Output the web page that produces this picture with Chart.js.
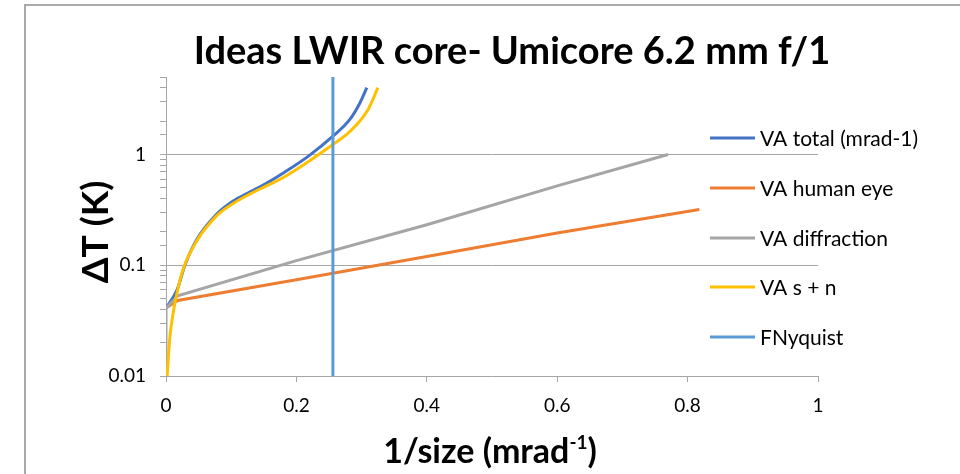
<!DOCTYPE html>
<html>
<head>
<meta charset="utf-8">
<title>Ideas LWIR core- Umicore 6.2 mm f/1</title>
<script src="https://cdn.jsdelivr.net/npm/chart.js@4.4.0/dist/chart.umd.min.js"></script>
<style>
  html, body { margin: 0; padding: 0; background: #fff; overflow: hidden; }
  #wrap { position: relative; width: 960px; height: 474px; }
  #frame { position: absolute; left: 24px; top: 4px; width: 1000px; height: 600px;
           border: 2px solid #a9a9a9; box-sizing: border-box; }
  #chart { position: absolute; left: 0; top: 0; }
</style>
</head>
<body>
<div id="wrap">
  <div id="frame"></div>
  <canvas id="chart" width="960" height="474"></canvas>
</div>
<script>
// Series (x = 1/size in mrad-1, y = ΔT in K)
const chartTitle = "Ideas LWIR core- Umicore 6.2 mm f/1";
const seriesNames = ["VA total (mrad-1)", "VA human eye", "VA diffraction", "VA s + n", "FNyquist"];

const totalX = [0, 0.017, 0.029, 0.047, 0.078, 0.103, 0.129, 0.154, 0.18, 0.218, 0.256, 0.282, 0.298, 0.308];
const totalY = [0.041, 0.06, 0.1, 0.17, 0.29, 0.38, 0.46, 0.55, 0.68, 0.96, 1.46, 2.07, 2.96, 4.0];

const eyeX = [0, 0.018, 0.2, 0.4, 0.6, 0.818];
const eyeY = [0.041, 0.048, 0.074, 0.12, 0.195, 0.318];

const diffX = [0, 0, 0.018, 0.2, 0.4, 0.6, 0.77];
const diffY = [0.005, 0.041, 0.053, 0.11, 0.232, 0.52, 1.0];

const snX = [0.0015, 0.006, 0.011, 0.018, 0.026, 0.047, 0.078, 0.103, 0.129, 0.154, 0.18, 0.218, 0.256, 0.282, 0.31, 0.325];
const snY = [0.0095, 0.0225, 0.037, 0.06, 0.091, 0.165, 0.28, 0.36, 0.44, 0.52, 0.62, 0.86, 1.23, 1.61, 2.55, 4.0];

const nyqX = [0.256, 0.256];
const nyqY = [0.01, 5];

// Axis ranges / tick labels
const xMin = 0, xMax = 1, xStep = 0.2;
const yMin = 0.01, yMax = 5;
const yLabels = ["0.01", "0.1", "1"];

const colors = ["#4472C4", "#ED7D31", "#A5A5A5", "#FFC000", "#5B9BD5"];
const FONT = "Lato, 'Open Sans', sans-serif";
const GRID = "#a6a6a6";

// legend placement (Excel put it over the plot)
const legendLineX = [710, 755];
const legendTextX = 760;
const legendY = [138, 188, 238, 287, 337];

function pts(xs, ys) {
  return xs.map((x, i) => ({ x: x, y: ys[i] }));
}

function isDecade(v) {
  const l = Math.log10(v);
  return Math.abs(l - Math.round(l)) < 1e-6;
}

const datasets = [
  { data: pts(totalX, totalY), smooth: true },
  { data: pts(eyeX, eyeY), smooth: false },
  { data: pts(diffX, diffY), smooth: false },
  { data: pts(snX, snY), smooth: true },
  { data: pts(nyqX, nyqY), smooth: false }
].map((d, i) => ({
  label: seriesNames[i],
  data: d.data,
  showLine: true,
  borderColor: colors[i],
  backgroundColor: colors[i],
  borderWidth: 3,
  pointRadius: 0,
  pointHoverRadius: 0,
  cubicInterpolationMode: d.smooth ? "monotone" : "default",
  tension: 0,
  order: 5 - i   // later series on top, like Excel
}));

// title, axis titles + legend drawn on top
const overlay = {
  id: "overlay",
  afterDraw(chart) {
    const ctx = chart.ctx;

    // chart title
    ctx.save();
    ctx.fillStyle = "#000";
    ctx.font = "bold 38px " + FONT;
    ctx.textAlign = "center";
    ctx.textBaseline = "middle";
    ctx.fillText(chartTitle, 512, 52);
    ctx.restore();

    // y axis title
    ctx.save();
    ctx.fillStyle = "#000";
    ctx.font = "bold 37px " + FONT;
    ctx.textAlign = "center";
    ctx.textBaseline = "middle";
    ctx.translate(96, 232);
    ctx.rotate(-Math.PI / 2);
    ctx.fillText("ΔT (K)", 0, 0);
    ctx.restore();

    // x axis title with superscript
    ctx.save();
    ctx.fillStyle = "#000";
    ctx.textBaseline = "alphabetic";
    ctx.textAlign = "left";
    const big = "bold 34px " + FONT, small = "bold 19px " + FONT;
    const a = "1/size (mrad", s = "-1", b = ")";
    ctx.font = big;
    const wa = ctx.measureText(a).width, wb = ctx.measureText(b).width;
    ctx.font = small;
    const ws = ctx.measureText(s).width;
    let x = 490 - (wa + ws + wb) / 2;
    const base = 463;
    ctx.font = big; ctx.fillText(a, x, base); x += wa;
    ctx.font = small; ctx.fillText(s, x, base - 14); x += ws;
    ctx.font = big; ctx.fillText(b, x, base);
    ctx.restore();

    // legend
    ctx.save();
    ctx.font = "21px " + FONT;
    ctx.textBaseline = "middle";
    ctx.fillStyle = "#000";
    chart.data.datasets.forEach((ds, i) => {
      ctx.strokeStyle = ds.borderColor;
      ctx.lineWidth = 3;
      ctx.beginPath();
      ctx.moveTo(legendLineX[0], legendY[i]);
      ctx.lineTo(legendLineX[1], legendY[i]);
      ctx.stroke();
      ctx.fillText(ds.label, legendTextX, legendY[i] + 1);
    });
    ctx.restore();
  }
};

new Chart(document.getElementById("chart"), {
  type: "scatter",
  data: { datasets },
  plugins: [overlay],
  options: {
    responsive: false,
    animation: false,
    devicePixelRatio: 1,
    layout: { padding: { left: 0, right: 142, top: 77, bottom: 0 } },
    plugins: {
      legend: { display: false },
      tooltip: { enabled: false },
      title: { display: false }
    },
    scales: {
      x: {
        type: "linear",
        min: xMin,
        max: xMax,
        afterFit: s => { s.height = 98; },
        ticks: {
          stepSize: xStep,
          color: "#000",
          padding: 12,
          font: { family: FONT, size: 19 },
          callback: v => String(Number(v.toFixed(1)))
        },
        grid: { drawOnChartArea: false, tickLength: 6, tickColor: GRID },
        border: { color: GRID, width: 1 }
      },
      y: {
        type: "logarithmic",
        min: yMin,
        max: yMax,
        afterFit: s => { s.width = 166; },
        ticks: {
          autoSkip: false,
          color: "#000",
          padding: 14,
          font: { family: FONT, size: 19 },
          callback: v => {
            const lbl = yLabels.find(t => Math.abs(Number(t) - v) < 1e-9);
            return lbl || "";
          }
        },
        grid: {
          color: c => (c.tick && isDecade(c.tick.value) && c.tick.value > yMin * 1.5) ? GRID : "rgba(0,0,0,0)",
          tickColor: GRID,
          tickLength: 6,
          lineWidth: 1
        },
        border: { color: GRID, width: 1 }
      }
    }
  }
});
</script>
</body>
</html>
